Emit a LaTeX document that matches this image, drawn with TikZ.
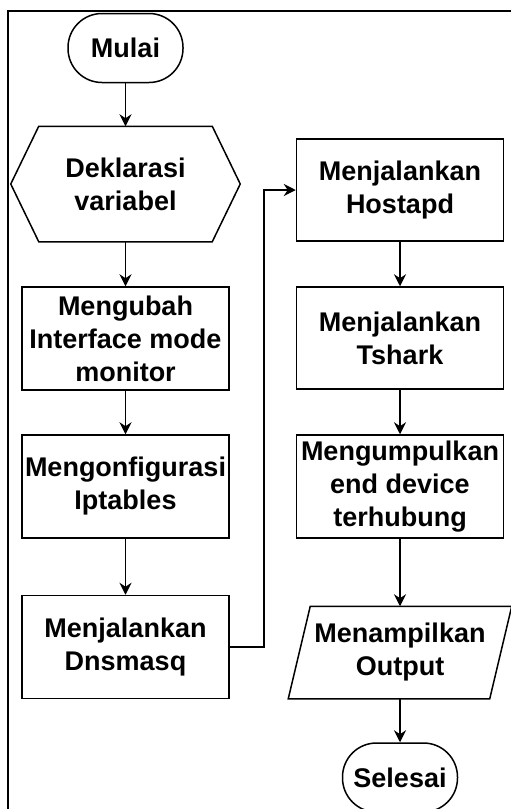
\documentclass[tikz,border=0pt]{standalone}
\usepackage{fontspec}
\setmainfont{Liberation Sans}
\usetikzlibrary{arrows.meta}

\def\lx{125.5}
\def\rx{400}
\def\chamf{28}
\def\slant{11}

\tikzset{
  flow/.style={draw, line width=1.5pt, align=center, inner sep=0pt,
    font=\fontsize{27}{33}\selectfont\bfseries},
  procbox/.style={flow, minimum width=207pt, minimum height=103pt},
  termbox/.style={flow, rounded corners=34pt, minimum width=115pt, minimum height=69pt},
  barebox/.style={flow, draw=none},
  arr/.style={line width=1.5pt, -{Stealth[length=12pt,width=12pt,inset=4pt]}}
}

\begin{document}
\begin{tikzpicture}[x=1pt, y=-1pt]
  \useasboundingbox (0,0) rectangle (511,809);
  % frame
  \draw[line width=1.5pt] (8,809) |- (511,11);

  % left column
  \node[termbox] (mulai) at (\lx,48) {Mulai};
  \node[barebox, minimum width=228pt, minimum height=114pt] (dekl) at (\lx,184) {Deklarasi\\variabel};
  \draw[line width=1.5pt] (dekl.west) -- ([xshift=\chamf pt]dekl.north west)
    -- ([xshift=-\chamf pt]dekl.north east) -- (dekl.east)
    -- ([xshift=-\chamf pt]dekl.south east) -- ([xshift=\chamf pt]dekl.south west) -- cycle;
  \node[procbox] (ubah) at (\lx,338.5) {Mengubah\\Interface mode\\monitor};
  \node[procbox] (ipt) at (\lx,486.5) {Mengonfigurasi\\Iptables};
  \node[procbox] (dns) at (\lx,647) {Menjalankan\\Dnsmasq};

  % right column
  \node[procbox, minimum height=102pt] (host) at (\rx,190) {Menjalankan\\Hostapd};
  \node[procbox, minimum height=102pt] (tsh) at (\rx,338) {Menjalankan\\Tshark};
  \node[procbox] (kumpul) at (\rx,486.5) {Mengumpulkan\\end device\\terhubung};
  \node[barebox, minimum width=200pt, minimum height=91pt] (out) at (\rx,652.5) {Menampilkan\\Output};
  \draw[line width=1.5pt] ([xshift=-\slant pt]out.south west) -- ([xshift=\slant pt]out.north west)
    -- ([xshift=\slant pt]out.north east) -- ([xshift=-\slant pt]out.south east) -- cycle;
  \node[termbox] (selesai) at (\rx,777.5) {Selesai};

  \foreach \a/\b in {mulai/dekl, dekl/ubah, ubah/ipt, ipt/dns,
                     host/tsh, tsh/kumpul, kumpul/out, out/selesai}
    \draw[arr] (\a.south) -- (\b.north);

  \draw[arr] (dns.east) -- ++(34pt,0) |- (host.west);
\end{tikzpicture}
\end{document}
